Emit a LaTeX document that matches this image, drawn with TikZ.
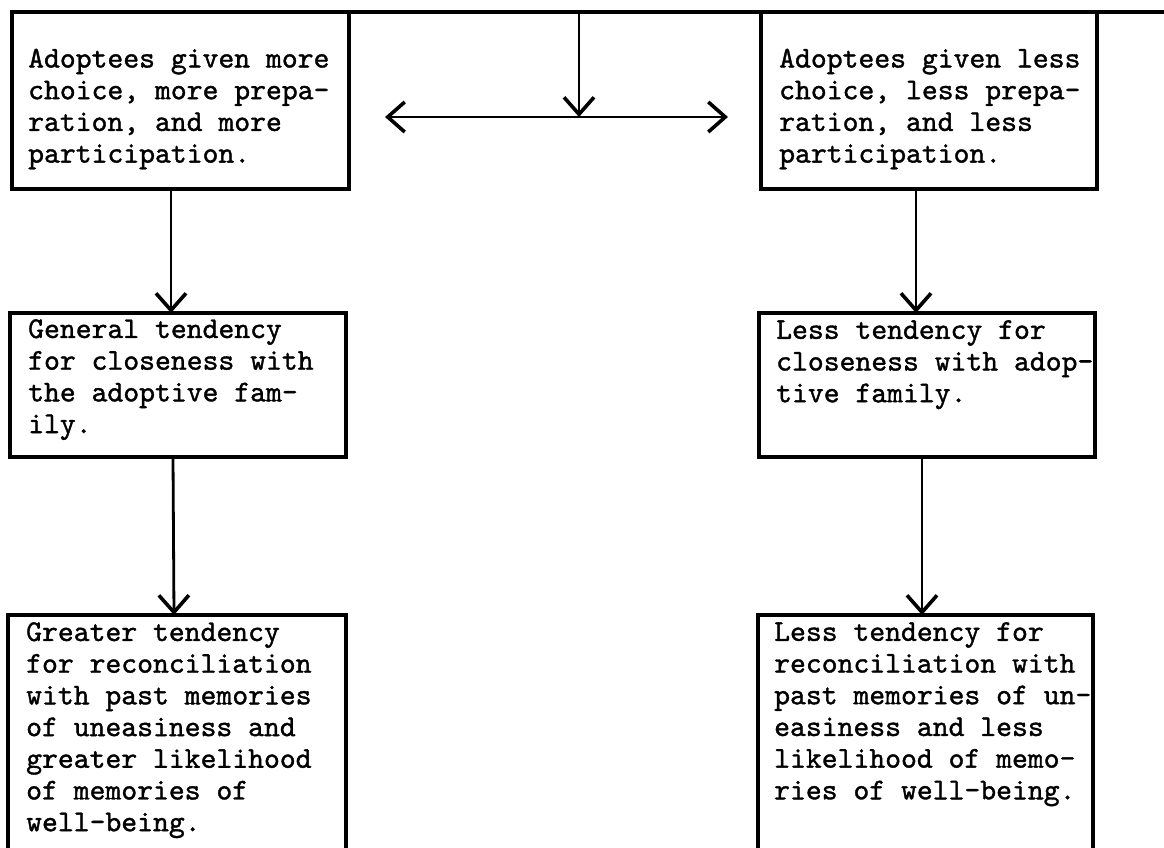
\documentclass[tikz,border=0pt]{standalone}
\usepackage{fontspec}
\usetikzlibrary{arrows.meta,positioning}

% typewriter face, slightly heavier than the plain mono cut
\newfontfamily\typewriter{lmmono10-regular.otf}[FakeBold=1.2]

\tikzset{
  box/.style={draw, line width=3.4pt, inner sep=0pt, outer sep=0pt,
              anchor=north west, minimum width=#1},
  label/.style={anchor=north west, inner sep=0pt, align=left,
                font=\typewriter\fontsize{30.2}{31.7}\selectfont},
  link/.style={line width=2.8pt,
               -{Straight Barb[length=17pt,width=30pt,line width=3.6pt]}},
}

\begin{document}
\begin{tikzpicture}[x=1pt,y=-1pt]
\useasboundingbox (0,0) rectangle (1164,848);
\clip (0,0) rectangle (1164,848);

% boxes
\node[box=337pt, minimum height=177pt] (b1) at (12,12) {};
\node[box=336pt, minimum height=177pt] (b2) at (761,12) {};
\node[box=336pt, minimum height=144pt] (b3) at (10,313) {};
\node[box=336pt, minimum height=144pt] (b4) at (759,313) {};
\node[box=338pt, minimum height=260pt] (b5) at (8,615) {};
\node[box=335pt, minimum height=260pt] (b6) at (758,615) {};

% texts
\node[label] (t1) at ([shift={(16,36.5)}]b1.north west)
  {Adoptees given more\\choice, more prepa-\\ration, and more\\participation.};
\node[label] (t2) at ([shift={(18,36.5)}]b2.north west)
  {Adoptees given less\\choice, less prepa-\\ration, and less\\participation.};
\node[label] (t3) at ([shift={(18,6)}]b3.north west)
  {General tendency\\for closeness with\\the adoptive fam-\\ily.};
\node[label] (t4) at ([shift={(17,7)}]b4.north west)
  {Less tendency for\\closeness with adop-\\tive family.};
\node[label] (t5) at ([shift={(18,7)}]b5.north west)
  {Greater tendency\\for reconciliation\\with past memories\\of uneasiness and\\greater likelihood\\of memories of\\well-being.};
\node[label] (t6) at ([shift={(16,7)}]b6.north west)
  {Less tendency for\\reconciliation with\\past memories of un-\\easiness and less\\likelihood of memo-\\ries of well-being.};

% top rule and the split arrow
\coordinate (edge) at (1164,12);
\coordinate (top) at (579,12);
\coordinate (hub) at (579,117);
\coordinate (lt) at (385,117);
\coordinate (rt) at (728,117);
\draw[line width=3.4pt] (b1.north west) -- (edge);
\draw[link] (top) -- (hub);
\draw[link] (hub) -- (lt);
\draw[link] (hub) -- (rt);

% column connectors
\draw[link] ([xshift=-9.5pt]b1.south) -- ([xshift=-7pt]b3.north);
\draw[link] ([xshift=-5pt]b3.south) -- ([xshift=-3pt]b5.north);
\draw[link] ([xshift=-13pt]b2.south) -- ([xshift=-11pt]b4.north);
\draw[link] ([xshift=-5pt]b4.south) -- ([xshift=-3.5pt]b6.north);
\end{tikzpicture}
\end{document}
